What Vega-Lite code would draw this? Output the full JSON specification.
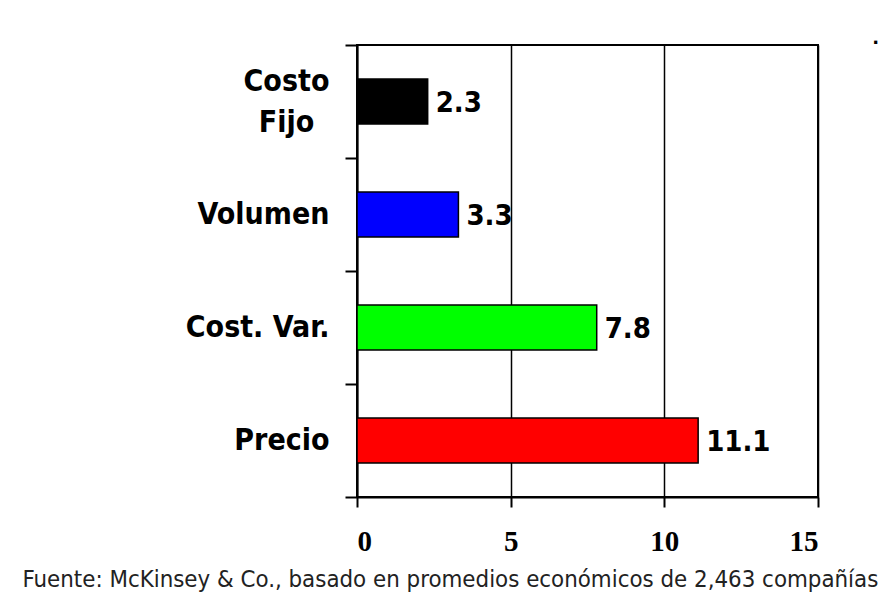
{
  "$schema": "https://vega.github.io/schema/vega-lite/v6.json",
  "width": 461,
  "height": 452,
  "autosize": {"type": "none"},
  "padding": {"left": 357, "top": 45, "right": 76, "bottom": 115},
  "background": "white",
  "title": {
    "text": ".",
    "anchor": "end",
    "frame": "group",
    "orient": "top",
    "offset": 0,
    "baseline": "alphabetic",
    "dx": 61,
    "dy": 32,
    "font": "DejaVu Sans",
    "fontSize": 18,
    "fontWeight": "bold",
    "color": "#000000"
  },
  "data": {
    "values": [
      {"factor": "Costo Fijo", "valor": 2.3},
      {"factor": "Volumen", "valor": 3.3},
      {"factor": "Cost. Var.", "valor": 7.8},
      {"factor": "Precio", "valor": 11.1}
    ]
  },
  "encoding": {
    "y": {
      "field": "factor",
      "type": "nominal",
      "sort": ["Costo Fijo", "Volumen", "Cost. Var.", "Precio"],
      "scale": {"paddingInner": 0, "paddingOuter": 0},
      "axis": {
        "title": null,
        "tickBand": "extent",
        "domainColor": "#000000",
        "domainWidth": 2,
        "tickColor": "#000000",
        "tickWidth": 2,
        "tickSize": 12,
        "labelPadding": {"condition": {"test": "datum.value == 'Costo Fijo'", "value": 59}, "value": 16},
        "labelAlign": {"condition": {"test": "datum.value == 'Costo Fijo'", "value": "center"}, "value": "right"},
        "labelOffset": {"condition": {"test": "datum.value == 'Costo Fijo'", "value": -20}, "value": 0},
        "labelFont": "DejaVu Sans Condensed, DejaVu Sans",
        "labelFontSize": 30,
        "labelFontWeight": "bold",
        "labelColor": "#000000",
        "labelLineHeight": 41,
        "labelExpr": "datum.value == 'Costo Fijo' ? ['Costo', 'Fijo'] : datum.label",
        "grid": false
      }
    },
    "x": {
      "field": "valor",
      "type": "quantitative",
      "scale": {"domain": [0, 15], "nice": false},
      "axis": {
        "values": [0, 5, 10, 15],
        "domainColor": "#000000",
        "domainWidth": 2,
        "tickColor": "#000000",
        "tickWidth": 2,
        "tickSize": 10,
        "labelPadding": 20,
        "labelFont": "Liberation Serif",
        "labelFontSize": 29,
        "labelFontWeight": "bold",
        "labelColor": "#000000",
        "grid": true,
        "gridColor": "#000000",
        "gridWidth": 1.5,
        "gridOpacity": 1,
        "title": "Fuente: McKinsey & Co., basado en promedios económicos de 2,463 compañías",
        "titleFont": "DejaVu Sans Condensed, DejaVu Sans",
        "titleFontSize": 23.8,
        "titleFontWeight": "normal",
        "titleColor": "#222222",
        "titleAnchor": "start",
        "titleAlign": "left",
        "titleBaseline": "alphabetic",
        "titleX": -335,
        "titleY": 89
      }
    }
  },
  "layer": [
    {
      "mark": {"type": "bar", "height": {"band": 0.4}, "stroke": "#000000", "strokeWidth": 1.5},
      "encoding": {
        "color": {
          "field": "factor",
          "type": "nominal",
          "scale": {
            "domain": ["Costo Fijo", "Volumen", "Cost. Var.", "Precio"],
            "range": ["#000000", "#0000FF", "#00FF00", "#FF0000"]
          },
          "legend": null
        }
      }
    },
    {
      "mark": {
        "type": "text",
        "align": "left",
        "baseline": "middle",
        "dx": 8,
        "dy": 1,
        "font": "DejaVu Sans Condensed, DejaVu Sans",
        "fontSize": 29,
        "fontWeight": "bold",
        "color": "#000000"
      },
      "encoding": {
        "text": {"field": "valor", "type": "quantitative", "format": ".1f"}
      }
    }
  ],
  "config": {
    "view": {"stroke": "#000000", "strokeWidth": 2}
  }
}
